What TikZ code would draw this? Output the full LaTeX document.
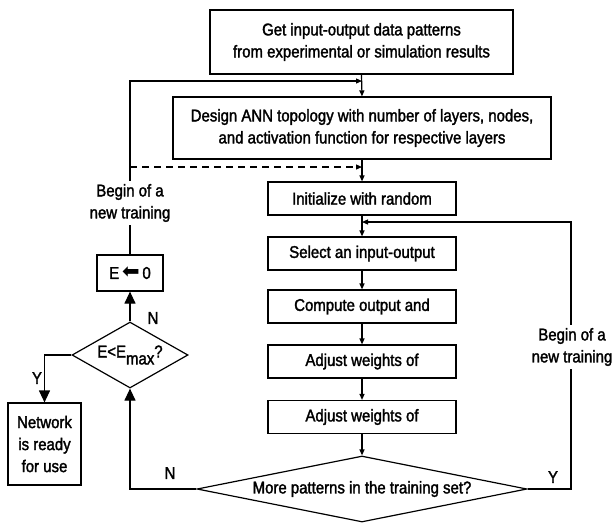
\documentclass[tikz,border=0pt]{standalone}
\usepackage{fontspec}
\setmainfont{Liberation Sans}[FakeStretch=0.88,FakeBold=1.8]
\newfontfamily\arrfont{DejaVu Sans}
\usetikzlibrary{arrows.meta,shapes.geometric}
\tikzset{
  box/.style={draw, line width=1.2pt, inner sep=0pt, align=center},
  txt/.style={align=center, inner sep=3pt},
  conn/.style={line width=1.2pt},
  sarr/.style={conn, -{Triangle[length=6pt,width=5pt]}},
  barr/.style={conn, -{Triangle[length=12pt,width=11pt]}},
  dia/.style={draw, diamond, line width=1.2pt, inner sep=0pt},
  lab/.style={inner sep=0pt}
}
\begin{document}
\begin{tikzpicture}[x=1pt,y=-1pt,font=\fontsize{17}{22}\selectfont]
\useasboundingbox (0,0) rectangle (613,523);
% boxes
\node[box, minimum width=303pt, minimum height=64pt] (top) at (361.5,42) {Get input-output data patterns\\from experimental or simulation results};
\node[box, minimum width=378pt, minimum height=62pt] (design) at (362,128) {Design ANN topology with number of layers, nodes,\\and activation function for respective layers};
\node[box, minimum width=188pt, minimum height=33pt] (init) at (362,198.5) {Initialize with random};
\node[box, minimum width=188pt, minimum height=33pt] (select) at (362,253.5) {Select an input-output};
\node[box, minimum width=188pt, minimum height=33pt] (compute) at (362,306.5) {Compute output and};
\node[box, minimum width=188pt, minimum height=33pt] (adj1) at (362,361.5) {Adjust weights of};
\node[box, minimum width=188pt, minimum height=33pt] (adj2) at (362,417) {Adjust weights of};
\node[dia, minimum width=330pt, minimum height=66pt, label={center:More patterns in the training set?}] (big) at (362,489) {};
\node[dia, minimum width=116pt, minimum height=66pt, label={center:E<E\raisebox{-7pt}{\fontsize{17}{17}\selectfont max}?}] (small) at (130,355) {};
\node[box, minimum width=66pt, minimum height=36pt] (ebox) at (130,273) {E\,{\arrfont\fontsize{21}{21}\selectfont ⬅}\,0};
\node[box, minimum width=73pt, minimum height=82pt] (net) at (44.5,444) {Network\\is ready\\for use};
% free texts
\node[txt] (ltext) at (130,203) {Begin of a\\new training};
\node[txt] (rtext) at (572,347) {Begin of a\\new training};
% coordinates
\coordinate (ltop) at (130,81);
\coordinate (ltopr) at (362,81);
\coordinate (ldash) at (130,167);
\coordinate (ldashr) at (362,167);
\coordinate (rtop) at (571,222);
\coordinate (rtopl) at (362,222);
\coordinate (rbot) at (571,489);
\coordinate (nbot) at (130,489);
\coordinate (ycorner) at (44.5,355);
% connectors
\draw[sarr] (top.south) -- (design.north);
\draw[sarr] (design.south) -- (init.north);
\draw[sarr] (init.south) -- (select.north);
\draw[sarr] (select.south) -- (compute.north);
\draw[sarr] (compute.south) -- (adj1.north);
\draw[sarr] (adj1.south) -- (adj2.north);
\draw[sarr] (adj2.south) -- (big.north);
\draw[conn] (ebox.north) -- (ebox.north |- ltext.south);
\draw[sarr] (ltop |- ltext.north) -- (ltop) -- (ltopr);
\draw[sarr, dashed, dash pattern=on 7pt off 5pt] (ldash) -- (ldashr);
\draw[conn] (big.east) -- (rbot) -- (rbot |- rtext.south);
\draw[sarr] (rtop |- rtext.north) -- (rtop) -- (rtopl);
\draw[barr] (big.west) -- (nbot) -- (small.south);
\draw[barr] (small.north) -- (ebox.south);
\draw[barr] (small.west) -- (ycorner) -- (net.north);
% labels
\node[lab] (n1) at (153,318) {N};
\node[lab] (y1) at (37,378) {Y};
\node[lab] (n2) at (170,473) {N};
\node[lab] (y2) at (553,477) {Y};
\end{tikzpicture}
\end{document}
